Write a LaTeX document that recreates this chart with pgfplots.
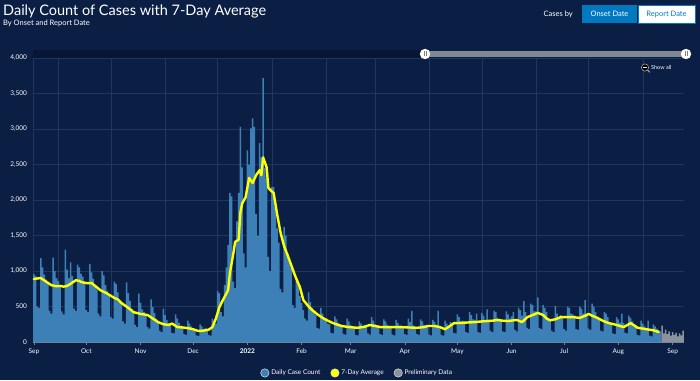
\documentclass[border=0pt]{standalone}
\usepackage{pgfplots}
\pgfplotsset{compat=1.18}
\usetikzlibrary{calc,backgrounds}
\usepackage{fontspec}
\setmainfont{Lato}
\definecolor{bgcol}{RGB}{11,31,69}
\definecolor{gridcol}{RGB}{32,54,94}
\definecolor{axisgray}{RGB}{120,130,150}
\definecolor{barblue}{RGB}{60,128,183}
\definecolor{prelimgray}{RGB}{140,146,156}
\definecolor{avgyellow}{RGB}{255,255,0}
\definecolor{btnblue}{RGB}{0,121,193}
\definecolor{slidergray}{RGB}{128,136,148}
\definecolor{darktrack}{RGB}{7,22,52}
\begin{document}
\begin{tikzpicture}[x=1pt,y=1pt]
\begin{axis}[anchor=south west, scale only axis,
  width=651pt, height=284pt,
  xmin=-0.5, xmax=371.5, ymin=0, ymax=4000,
  axis background/.style={fill=bgcol},
  axis x line*=bottom, axis y line*=left,
  x axis line style={-, draw=axisgray, line width=0.6pt},
  y axis line style={-, draw=gridcol},
  xtick={0,30,61,91,122,153,181,212,242,273,303,334,365},
  xticklabels={Sep,Oct,Nov,Dec,\textbf{2022},Feb,Mar,Apr,May,Jun,Jul,Aug,Sep},
  extra x ticks={14,44,75,105,136,167,195,226,256,287,317,348},
  extra x tick labels={},
  extra x tick style={grid=major, major tick length=0pt},
  ytick={0,500,...,4000},
  ymajorgrids=true,
  major grid style={draw=gridcol, line width=0.5pt},
  tick align=outside,
  x tick style={draw=axisgray, line width=0.5pt},
  major tick length=2.5pt,
  y tick style={draw=none},
  ticklabel style={font=\fontsize{6.5}{8}\selectfont, text=white},
  y tick label style={/pgf/number format/.cd, 1000 sep={,}, assume math mode=true},
  xticklabel style={yshift=-1pt},
  legend style={at={(0.498,-0.109)}, anchor=center, draw=none, fill=none,
    text=white, font=\fontsize{6.5}{8}\selectfont, legend columns=3,
    /tikz/every even column/.append style={column sep=8pt}},
  legend cell align=left,
  clip=false,
]
\addplot[ybar, bar width=0.85, fill=barblue, draw=none,
  legend image code/.code={\draw[draw=white!75!gray, fill=barblue, line width=0.5pt] (3pt,0pt) circle (4.2pt);}]
coordinates {
(0,960)(1,930)(2,500)(3,480)(4,1180)(5,1050)(6,950)
(7,880)(8,820)(9,440)(10,400)(11,1190)(12,1000)(13,900)
(14,860)(15,790)(16,430)(17,390)(18,1300)(19,1020)(20,900)
(21,1120)(22,930)(23,470)(24,440)(25,1090)(26,1050)(27,960)
(28,920)(29,830)(30,450)(31,420)(32,1100)(33,980)(34,890)
(35,800)(36,740)(37,400)(38,360)(39,1000)(40,940)(41,800)
(42,720)(43,650)(44,350)(45,330)(46,850)(47,820)(48,700)
(49,590)(50,540)(51,290)(52,260)(53,840)(54,690)(55,580)
(56,470)(57,420)(58,240)(59,210)(60,680)(61,550)(62,460)
(63,420)(64,380)(65,210)(66,190)(67,600)(68,490)(69,410)
(70,330)(71,290)(72,160)(73,140)(74,470)(75,380)(76,310)
(77,270)(78,250)(79,130)(80,120)(81,390)(82,330)(83,270)
(84,230)(85,200)(86,110)(87,100)(88,300)(89,260)(90,220)
(91,190)(92,170)(93,95)(94,85)(95,250)(96,220)(97,180)
(98,200)(99,180)(100,100)(101,90)(102,330)(103,300)(104,260)
(105,720)(106,690)(107,420)(108,360)(109,800)(110,1050)(111,1365)
(112,2100)(113,2050)(114,850)(115,760)(116,1700)(117,2100)(118,3030)
(119,2460)(120,1250)(121,1050)(122,2700)(123,2500)(124,3010)(125,3150)
(126,3030)(127,1800)(128,1500)(129,2800)(130,2600)(131,3717)(132,2450)
(133,2300)(134,1200)(135,1000)(136,2180)(137,2180)(138,1900)(139,1600)
(140,1400)(141,750)(142,700)(143,1620)(144,1500)(145,1250)(146,1150)
(147,1050)(148,520)(149,480)(150,900)(151,800)(152,650)(153,550)
(154,450)(155,330)(156,300)(157,700)(158,560)(159,480)(160,420)
(161,380)(162,200)(163,190)(164,480)(165,400)(166,340)(167,300)
(168,260)(169,250)(170,130)(171,120)(172,360)(173,320)(174,270)
(175,240)(176,220)(177,115)(178,105)(179,330)(180,290)(181,240)
(182,220)(183,200)(184,100)(185,95)(186,290)(187,260)(188,220)
(189,240)(190,230)(191,120)(192,105)(193,350)(194,300)(195,250)
(196,230)(197,220)(198,110)(199,100)(200,320)(201,290)(202,240)
(203,220)(204,210)(205,105)(206,95)(207,310)(208,270)(209,230)
(210,230)(211,215)(212,110)(213,100)(214,330)(215,280)(216,440)
(217,230)(218,215)(219,110)(220,100)(221,320)(222,290)(223,240)
(224,225)(225,210)(226,105)(227,95)(228,310)(229,285)(230,240)
(231,440)(232,220)(233,100)(234,90)(235,300)(236,260)(237,220)
(238,280)(239,260)(240,130)(241,120)(242,390)(243,350)(244,290)
(245,300)(246,290)(247,140)(248,130)(249,420)(250,380)(251,320)
(252,310)(253,400)(254,140)(255,130)(256,410)(257,370)(258,310)
(259,460)(260,310)(261,160)(262,140)(263,440)(264,420)(265,340)
(266,320)(267,300)(268,150)(269,140)(270,430)(271,390)(272,330)
(273,360)(274,420)(275,170)(276,150)(277,480)(278,450)(279,370)
(280,575)(281,420)(282,200)(283,180)(284,540)(285,520)(286,430)
(287,430)(288,630)(289,200)(290,180)(291,520)(292,480)(293,420)
(294,340)(295,320)(296,160)(297,140)(298,510)(299,400)(300,350)
(301,380)(302,360)(303,180)(304,160)(305,500)(306,480)(307,400)
(308,390)(309,370)(310,180)(311,170)(312,500)(313,470)(314,400)
(315,590)(316,400)(317,190)(318,170)(319,540)(320,500)(321,420)
(322,350)(323,330)(324,160)(325,150)(326,420)(327,400)(328,350)
(329,280)(330,250)(331,120)(332,110)(333,350)(334,320)(335,270)
(336,400)(337,270)(338,130)(339,120)(340,370)(341,340)(342,290)
(343,230)(344,210)(345,100)(346,95)(347,300)(348,260)(349,220)
(350,200)(351,300)(352,90)(353,80)(354,250)(355,220)(356,190)
(357,170)(358,150)
};
\addlegendentry{Daily Case Count}
\addplot[color=avgyellow, line width=2.4pt, line join=round, line cap=round,
  legend image code/.code={\draw[draw=white!75!gray, fill=avgyellow, line width=0.5pt] (3pt,0pt) circle (4.2pt);}]
coordinates {
(0,887)(2,895)(4,900)(7,850)(10,800)(13,785)(15,790)(17,780)(19,790)(21,820)
(24,870)(26,860)(27,845)(30,830)(33,830)(35,790)(38,730)(42,680)(46,620)(48,600)
(50,550)(54,480)(57,420)(61,395)(65,380)(68,330)(71,280)(74,250)(77,240)(79,260)
(82,210)(85,205)(88,195)(91,180)(94,155)(97,160)(100,175)(102,210)(104,330)(106,490)
(108,590)(111,730)(112,970)(114,1250)(115,1410)(117,1440)(118,1820)(119,1950)(121,2040)
(123,2310)(125,2240)(127,2350)(129,2420)(130,2350)(131,2600)(133,2460)(134,2170)
(136,2120)(137,2100)(139,1800)(141,1535)(143,1350)(146,1155)(149,950)(151,830)
(152,775)(154,590)(157,500)(159,450)(162,390)(165,340)(168,300)(171,265)(174,240)
(176,225)(180,210)(185,200)(189,215)(192,240)(195,225)(198,210)(203,210)(209,210)
(214,205)(219,200)(223,210)(225,225)(229,225)(232,210)(235,180)(238,230)(240,265)
(245,270)(248,275)(252,280)(256,290)(259,295)(262,300)(265,310)(268,300)(271,295)
(274,305)(276,310)(279,280)(282,350)(285,380)(288,410)(291,380)(293,330)(295,305)
(298,320)(301,350)(305,350)(308,350)(312,340)(315,370)(317,395)(319,370)(322,340)
(325,300)(328,270)(333,240)(337,210)(341,265)(343,235)(345,200)(350,180)(354,165)(357,140)
};
\addlegendentry{7-Day Average}
\addplot[ybar, bar width=0.85, fill=prelimgray, draw=none,
  legend image code/.code={\draw[draw=white!75!gray, fill=prelimgray, line width=0.5pt] (3pt,0pt) circle (4.2pt);}]
coordinates {
(359,230)(360,120)(361,175)(362,110)(363,150)(364,90)(365,140)
(366,100)(367,130)(368,80)(369,120)(370,95)(371,160)
};
\addlegendentry{Preliminary Data}
\coordinate (BSW) at (rel axis cs:0,0);
\end{axis}
\coordinate (O) at ($(BSW)+(-33,-38)$);
\begin{scope}[shift={(O)}]
\begin{scope}[on background layer]
\fill[bgcol] (0,0) rectangle (700,380);
\end{scope}
\node[anchor=base west, text=white, font=\fontsize{14.5}{17}\selectfont, inner sep=0] at (3,364) {Daily Count of Cases with 7-Day Average};
\node[anchor=base west, text=white, font=\fontsize{7.5}{9}\selectfont, inner sep=0] at (3,354) {By Onset and Report Date};
\node[anchor=east, text=white, font=\fontsize{7.5}{9}\selectfont, inner sep=0] at (573,366) {Cases by};
\fill[btnblue] (582,357) rectangle (637,375);
\node[text=white, font=\fontsize{7.5}{9}\selectfont] at (609.5,366) {Onset Date};
\draw[btnblue, fill=white] (638,357) rectangle (695,375);
\node[text=btnblue, font=\fontsize{7.5}{9}\selectfont] at (666.5,366) {Report Date};
\fill[darktrack] (33,322.3) rectangle (425,330);
\fill[slidergray] (425,323) rectangle (686,329);
\fill[white] (425,326) circle (5.2);
\fill[white] (686,326) circle (5.2);
\draw[gray, line width=0.4pt] (424.2,323.5) -- (424.2,328.5) (425.8,323.5) -- (425.8,328.5);
\draw[gray, line width=0.4pt] (685.2,323.5) -- (685.2,328.5) (686.8,323.5) -- (686.8,328.5);
\draw[draw=gray!60, fill=black, line width=0.5pt] (645,312.5) circle (3.6);
\draw[draw=gray!60, line width=1pt] (647.6,309.9) -- (649.8,307.7);
\draw[white!80!gray, line width=0.6pt] (643.2,312.5) -- (646.8,312.5);
\node[anchor=west, text=white, font=\fontsize{5.5}{7}\selectfont, inner sep=0] at (651,312.5) {Show all};
\end{scope}
\pgfresetboundingbox
\path[use as bounding box] (O) rectangle ($(O)+(700,380)$);
\end{tikzpicture}
\end{document}
